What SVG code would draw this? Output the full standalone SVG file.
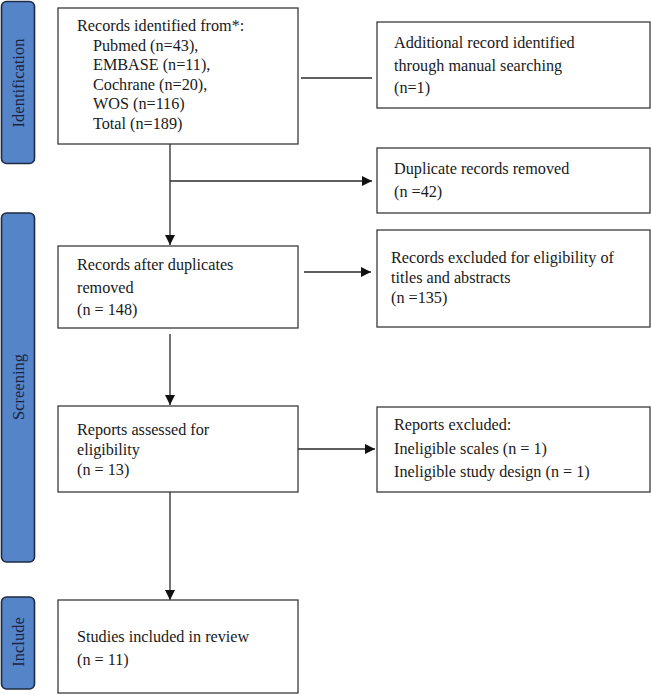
<svg xmlns="http://www.w3.org/2000/svg" width="651" height="695" viewBox="0 0 651 695">
<defs>
<style>
.box{fill:#fff;stroke:#3a3a3a;stroke-width:1.3}
.bar{fill:#5585C8;stroke:#1d2b44;stroke-width:1.6}
.t{font-family:"Liberation Serif","Times New Roman",serif;font-size:16.2px;fill:#1a1a1a}
.s{font-family:"Liberation Serif","Times New Roman",serif;font-size:16.5px;fill:#1a2440;text-anchor:middle}
.ln{stroke:#2a2a2a;stroke-width:1.3;fill:none}
</style>
<marker id="ah" viewBox="0 0 10 10" refX="10" refY="5" markerWidth="10" markerHeight="10" markerUnits="userSpaceOnUse" orient="auto">
<path d="M0,0 L10,5 L0,10 z" fill="#111"/>
</marker>
</defs>
<rect width="651" height="695" fill="#fff"/>
<g id="phase-identification">
<rect class="bar" x="1.5" y="1.5" width="33" height="162" rx="5"/>
<text class="s" transform="translate(23.5,83) rotate(-90)">Identification</text>
</g>
<g id="phase-screening">
<rect class="bar" x="1.5" y="213" width="33" height="349" rx="5"/>
<text class="s" transform="translate(23.5,387) rotate(-90)">Screening</text>
</g>
<g id="phase-include">
<rect class="bar" x="1.5" y="597" width="33" height="92" rx="5"/>
<text class="s" transform="translate(23.5,642) rotate(-90)">Include</text>
</g>
<g id="connectors">
<line class="ln" x1="301" y1="78" x2="372" y2="78"/>
<line class="ln" x1="170" y1="144" x2="170" y2="245" marker-end="url(#ah)"/>
<line class="ln" x1="170" y1="181" x2="372" y2="181" marker-end="url(#ah)"/>
<line class="ln" x1="304" y1="272" x2="371" y2="272" marker-end="url(#ah)"/>
<line class="ln" x1="170" y1="334" x2="170" y2="405" marker-end="url(#ah)"/>
<line class="ln" x1="298" y1="449" x2="375" y2="449" marker-end="url(#ah)"/>
<line class="ln" x1="170" y1="492" x2="170" y2="600" marker-end="url(#ah)"/>
</g>
<g id="records-identified">
<rect class="box" x="58" y="8" width="240" height="136"/>
<text class="t" x="77" y="31">Records identified from*:</text>
<text class="t" x="93" y="51">Pubmed (n=43),</text>
<text class="t" x="93" y="70">EMBASE (n=11),</text>
<text class="t" x="93" y="90">Cochrane (n=20),</text>
<text class="t" x="93" y="109">WOS (n=116)</text>
<text class="t" x="93" y="129">Total (n=189)</text>
</g>
<g id="additional-records">
<rect class="box" x="377" y="22" width="273" height="86"/>
<text class="t" x="394" y="48">Additional record identified</text>
<text class="t" x="394" y="71">through manual searching</text>
<text class="t" x="394" y="93">(n=1)</text>
</g>
<g id="duplicates-removed">
<rect class="box" x="377" y="148" width="273" height="65"/>
<text class="t" x="394" y="174">Duplicate records removed</text>
<text class="t" x="394" y="197">(n =42)</text>
</g>
<g id="records-after-duplicates">
<rect class="box" x="58" y="246" width="240" height="82"/>
<text class="t" x="77" y="270">Records after duplicates</text>
<text class="t" x="77" y="293">removed</text>
<text class="t" x="77" y="315">(n = 148)</text>
</g>
<g id="records-excluded">
<rect class="box" x="377" y="230" width="273" height="97"/>
<text class="t" x="391" y="263">Records excluded for eligibility of</text>
<text class="t" x="391" y="283">titles and abstracts</text>
<text class="t" x="391" y="303">(n =135)</text>
</g>
<g id="reports-assessed">
<rect class="box" x="58" y="406" width="240" height="86"/>
<text class="t" x="77" y="435">Reports assessed for</text>
<text class="t" x="77" y="455">eligibility</text>
<text class="t" x="77" y="475">(n = 13)</text>
</g>
<g id="reports-excluded">
<rect class="box" x="377" y="407" width="273" height="85"/>
<text class="t" x="394" y="430">Reports excluded:</text>
<text class="t" x="394" y="454">Ineligible scales (n = 1)</text>
<text class="t" x="394" y="477">Ineligible study design (n = 1)</text>
</g>
<g id="studies-included">
<rect class="box" x="58" y="600" width="240" height="93"/>
<text class="t" x="77" y="642">Studies included in review</text>
<text class="t" x="77" y="665">(n = 11)</text>
</g>
</svg>
